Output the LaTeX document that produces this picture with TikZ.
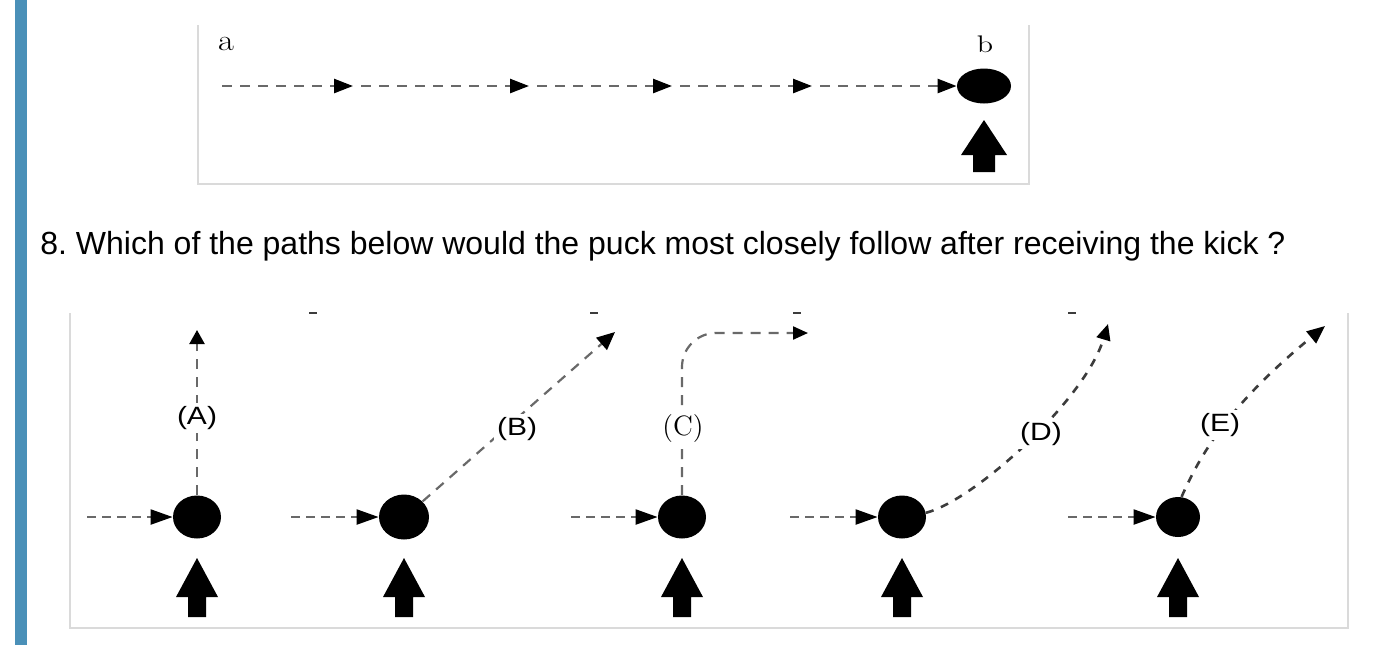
\documentclass[tikz,border=0pt]{standalone}
\usepackage{fontspec}
\setsansfont{Liberation Sans}
\usetikzlibrary{arrows.meta,shapes.geometric}
\definecolor{barblue}{RGB}{74,144,184}
\definecolor{dashgray}{RGB}{105,105,105}
\definecolor{darkdash}{RGB}{60,60,60}
\definecolor{boxgray}{RGB}{218,218,218}
\tikzset{
  kick/.pic={\fill (-21,0) -- (0,-39) -- (21,0) -- (9,0) -- (9,20) -- (-9,20) -- (-9,0) -- cycle;},
  topkick/.pic={\fill (-23,0) -- (0,-35) -- (23,0) -- (11,0) -- (11,17) -- (-11,17) -- (-11,0) -- cycle;},
  puck/.style={ellipse,fill=black,inner sep=0pt,minimum width=24pt,minimum height=21.5pt},
  topline/.style={draw=dashgray,line width=1.3pt,dash pattern=on 5pt off 4pt,-{Triangle[length=9.5pt,width=7pt,color=black]}},
  inline/.style={draw=dashgray,line width=1.1pt,dash pattern=on 4.5pt off 3pt,-{Triangle[length=11pt,width=7.5pt,color=black]}},
  pathline/.style={draw=dashgray,line width=1.1pt,dash pattern=on 5pt off 4pt},
  pathdark/.style={draw=darkdash,line width=1.3pt,dash pattern=on 4pt off 4pt},
  lbl/.style={font=\sffamily\fontsize{12.5}{14}\selectfont,fill=white,inner sep=1.5pt},
}
\begin{document}
\frenchspacing
\begin{tikzpicture}[x=0.5pt,y=-0.5pt]
\useasboundingbox (0,0) rectangle (1376,645);
% blue side bar
\fill[barblue] (15,0) rectangle (27,645);
% top box
\draw[boxgray,line width=0.8pt] (198,25) -- (198,184) -- (1029,184) -- (1029,25);
\node[font=\fontsize{15}{17}\selectfont,inner sep=0pt] (la) at (226,44) {\scalebox{1.15}[1]{a}};
\node[font=\fontsize{12}{14}\selectfont,inner sep=0pt] (lb) at (985,44) {\scalebox{1.25}[1]{b}};
\node[ellipse,fill=black,inner sep=0pt,minimum width=27pt,minimum height=17.5pt] (pb) at (984,86) {};
\coordinate (t0) at (222,86);
\coordinate (t1) at (353,86);
\coordinate (t2) at (529,86);
\coordinate (t3) at (672,86);
\coordinate (t4) at (812,86);
\draw[topline] (t0) -- (t1);
\draw[topline,dash phase=5pt] (t1) -- (t2);
\draw[topline,dash phase=5pt] (t2) -- (t3);
\draw[topline,dash phase=5pt] (t3) -- (t4);
\draw[topline,dash phase=5pt] (t4) -- (pb.west);
\pic at (984,155) {topkick};
% question
\node[font=\sffamily\fontsize{16}{19}\selectfont,anchor=base west,inner sep=0pt] (q) at (40,254)
  {8. Which of the paths below would the puck most closely follow after receiving the kick ?};
% bottom box
\draw[boxgray,line width=0.8pt] (70,313) -- (70,628) -- (1348,628) -- (1348,313);
% small cropped marks at top
\foreach \mx in {313,594,797,1072} \draw[darkdash,line width=1pt] (\mx-4,313) -- (\mx+4,313);
% pucks
\node[puck] (A) at (197,517) {};
\node[puck,minimum width=25pt,minimum height=22.5pt] (B) at (404,517) {};
\node[puck] (C) at (682,517) {};
\node[puck] (D) at (902,517) {};
\node[puck,minimum width=22pt,minimum height=20pt] (E) at (1178,517) {};
% incoming
\coordinate (iA) at (87,517);
\coordinate (iB) at (291,517);
\coordinate (iC) at (571,517);
\coordinate (iD) at (790,517);
\coordinate (iE) at (1068,517);
\draw[inline] (iA) -- (A.west);
\draw[inline] (iB) -- (B.west);
\draw[inline] (iC) -- (C.west);
\draw[inline] (iD) -- (D.west);
\draw[inline] (iE) -- (E.west);
% kicks
\pic at (197,597) {kick};
\pic at (404,597) {kick};
\pic at (682,597) {kick};
\pic at (902,597) {kick};
\pic at (1178,597) {kick};
% path tips
\coordinate (pA) at (197,330);
\coordinate (pB) at (615,332);
\coordinate (pC) at (808,333);
\coordinate (pD) at (1108,324);
\coordinate (pE) at (1325,326);
% paths
\draw[pathline,-{Triangle[length=7pt,width=7.5pt,color=black]}] (A.north) -- (pA);
\node[lbl] (lA) at (197,418) {\scalebox{1.2}[1]{(A)}};
\draw[pathline,-{Triangle[length=9pt,width=8pt,color=black]}] (B.40) -- (pB);
\node[lbl] (lB) at (517,429) {\scalebox{1.2}[1]{(B)}};
\draw[pathline,rounded corners=17pt,-{Triangle[length=7.5pt,width=6.5pt,color=black]}] (C.north) |- (pC);
\node[font=\fontsize{14}{16}\selectfont,fill=white,inner sep=1.5pt] (lC) at (683,428) {(C)};
\draw[pathdark,-{Triangle[length=8pt,width=7pt,color=black]}] (D.10) .. controls (975,500) and (1085,400) .. (pD);
\node[lbl] (lD) at (1041,434) {\scalebox{1.2}[1]{(D)}};
\draw[pathdark,-{Triangle[length=9pt,width=7.5pt,color=black]}] (E.80) .. controls (1203,448) and (1235,400) .. (pE);
\node[lbl] (lE) at (1220,425) {\scalebox{1.2}[1]{(E)}};
\end{tikzpicture}
\end{document}
